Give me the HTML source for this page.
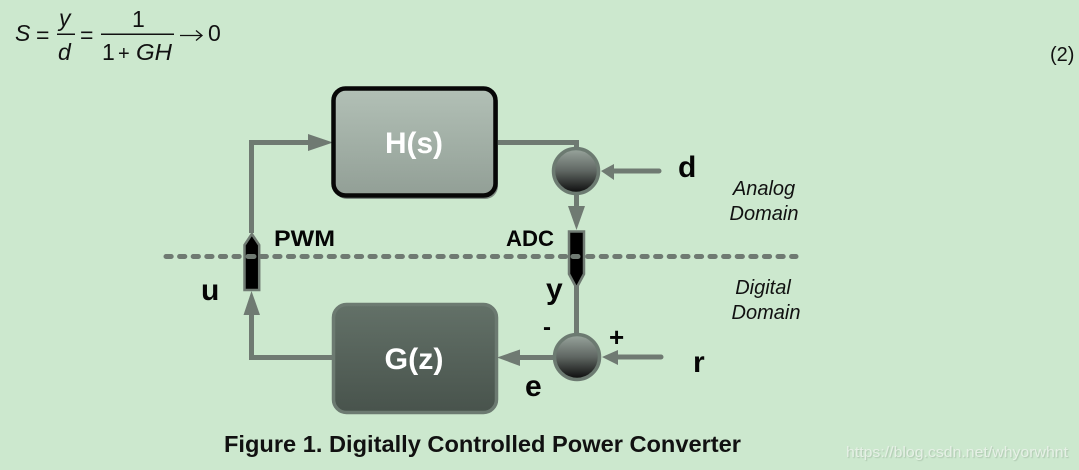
<!DOCTYPE html>
<html>
<head>
<meta charset="utf-8">
<style>
html,body{margin:0;padding:0;background:#cce8ce;width:1079px;height:470px;overflow:hidden}
svg{display:block;font-family:"Liberation Sans",sans-serif}
</style>
</head>
<body>
<svg width="1079" height="470" viewBox="0 0 1079 470" xmlns="http://www.w3.org/2000/svg">
<defs>
<linearGradient id="h" x1="0" y1="0" x2="0" y2="1"><stop offset="0" stop-color="#b2c0b6"/><stop offset="1" stop-color="#929f96"/></linearGradient>
<linearGradient id="g" x1="0" y1="0" x2="0" y2="1"><stop offset="0" stop-color="#637168"/><stop offset="1" stop-color="#48534c"/></linearGradient>
<linearGradient id="c" x1="0" y1="0" x2="0" y2="1"><stop offset="0" stop-color="#9aa69e"/><stop offset="0.5" stop-color="#5f6662"/><stop offset="1" stop-color="#0a0a0a"/></linearGradient>
</defs>
<rect width="1079" height="470" fill="#cce8ce"/>

<!-- Equation -->
<g fill="#111" font-size="23">
<text x="15" y="41" font-style="italic">S</text>
<text x="36" y="43">=</text>
<text x="59" y="26" font-style="italic">y</text>
<rect x="57" y="33.500" width="18" height="1.500"/>
<text x="58" y="60" font-style="italic">d</text>
<text x="80" y="43">=</text>
<text x="132" y="27">1</text>
<rect x="101" y="33.500" width="73" height="1.500"/>
<text x="102" y="60">1</text>
<text x="118" y="60" font-size="20">+</text>
<text x="136" y="60" font-style="italic" textLength="36" lengthAdjust="spacingAndGlyphs">GH</text>
<path d="M180 35.500H201M196 30.500L202 35.500L196 40.500" fill="none" stroke="#111" stroke-width="1.300"/>
<text x="208" y="41">0</text>
</g>
<text x="1050" y="61" font-size="20" fill="#111">(2)</text>

<!-- Dashed domain line -->
<line x1="166" y1="256.500" x2="796" y2="256.500" stroke="#6f7a72" stroke-width="5" stroke-linecap="round" stroke-dasharray="5.200 8.400"/>

<!-- Connectors -->
<g fill="none" stroke="#6f7a72" stroke-width="5">
<path d="M251.500 233V142.500H312"/>
<path d="M494 142.500H576.500V150"/>
<path d="M576.500 195V208"/>
<path d="M576.500 285V335"/>
<path d="M332 357.500H251.500V312"/>
<path d="M555 357.500H518"/>
<path d="M659 171H612" stroke-linecap="round"/>
<path d="M661 357H615" stroke-linecap="round"/>
</g>
<g fill="#6f7a72">
<path d="M308 134L333 142.500L308 151Z"/>
<path d="M568 206H585L576.500 230Z"/>
<path d="M243.500 315L251.500 291L260 315Z"/>
<path d="M497 357.500L520 349.500V366Z"/>
<path d="M601 171L614 164V180Z"/>
<path d="M602 357L618 350V365Z"/>
</g>

<!-- H(s) -->
<rect x="334" y="90" width="164" height="109" rx="13" fill="#7f8b83"/>
<rect x="333.500" y="88.500" width="162" height="107" rx="12" fill="url(#h)" stroke="#070707" stroke-width="4.500"/>
<text x="414" y="153" text-anchor="middle" font-size="30" font-weight="bold" fill="#fff" textLength="58" lengthAdjust="spacingAndGlyphs">H(s)</text>

<!-- G(z) -->
<rect x="333.500" y="304.500" width="163" height="108" rx="13" fill="url(#g)" stroke="#6c7a71" stroke-width="3.500"/>
<text x="414" y="369" text-anchor="middle" font-size="30" font-weight="bold" fill="#fff" textLength="59" lengthAdjust="spacingAndGlyphs">G(z)</text>

<!-- Summers -->
<circle cx="576" cy="171" r="22.500" fill="url(#c)" stroke="#6c7a71" stroke-width="3.500"/>
<circle cx="577" cy="357" r="22.500" fill="url(#c)" stroke="#6c7a71" stroke-width="3.500"/>

<!-- Converters -->
<path d="M244.500 290V245L251.800 234L259.200 245V290Z" fill="#000" stroke="#6f7a72" stroke-width="2.500"/>
<path d="M569 231.500H584V274L576.500 288L569 274Z" fill="#000" stroke="#6f7a72" stroke-width="2.500"/>
<line x1="248" y1="256.500" x2="254" y2="256.500" stroke="#6f7a72" stroke-width="5" stroke-linecap="round"/>
<line x1="573" y1="256.500" x2="578" y2="256.500" stroke="#6f7a72" stroke-width="5" stroke-linecap="round"/>

<!-- Labels -->
<g fill="#050505" font-weight="bold">
<text x="274" y="246" font-size="22" textLength="61" lengthAdjust="spacingAndGlyphs">PWM</text>
<text x="506" y="246" font-size="22" textLength="48" lengthAdjust="spacingAndGlyphs">ADC</text>
<text x="678" y="177" font-size="30">d</text>
<text x="201" y="300" font-size="30">u</text>
<text x="546" y="299" font-size="30">y</text>
<text x="543" y="335" font-size="24">-</text>
<text x="609" y="346" font-size="26">+</text>
<text x="693" y="372" font-size="30">r</text>
<text x="525" y="396" font-size="30">e</text>
</g>
<g fill="#111" font-size="20" font-style="italic" text-anchor="middle">
<text x="764" y="195">Analog</text>
<text x="764" y="220">Domain</text>
<text x="763" y="294">Digital</text>
<text x="766" y="319">Domain</text>
</g>

<text x="224" y="452" font-size="23" font-weight="bold" fill="#111" textLength="517" lengthAdjust="spacingAndGlyphs">Figure 1. Digitally Controlled Power Converter</text>
<text x="846" y="457" font-size="15" fill="#e6f0e6" textLength="222" lengthAdjust="spacingAndGlyphs" style="text-shadow:1px 1px 1px rgba(120,140,120,.35)">https://blog.csdn.net/whyorwhnt</text>
</svg>
</body>
</html>
